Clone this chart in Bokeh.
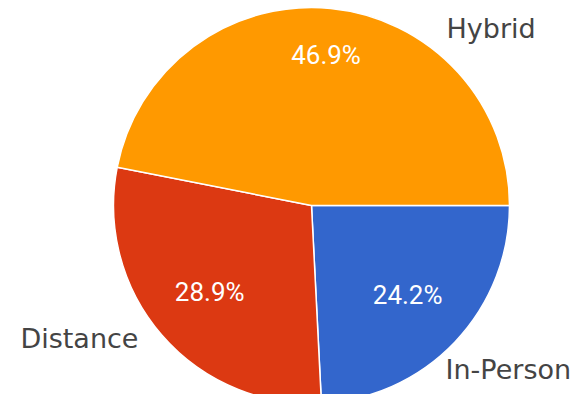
import math
from bokeh.plotting import figure
from bokeh.models import ColumnDataSource, Range1d
from bokeh.core.properties import value
from bokeh.embed import file_html
from bokeh.resources import INLINE

# ---- data ----
categories = ["In-Person", "Distance", "Hybrid"]
shares = [24.2, 28.9, 46.9]
colors = ["#3366CC", "#DC3912", "#FF9900"]

# ---- layout (pixels) ----
W, H = 572, 394
CX, CY, R = 311, 205, 198   # pie centre / radius inside the canvas

total = sum(shares)
starts, ends, mids = [], [], []
acc = 0.0
for s in shares:
    a0 = -2 * math.pi * acc / total
    acc += s
    a1 = -2 * math.pi * acc / total
    starts.append(a0)
    ends.append(a1)
    mids.append((a0 + a1) / 2)

src = ColumnDataSource(dict(cat=categories, share=shares, color=colors,
                            start=starts, end=ends))

p = figure(width=W, height=H, output_backend="svg", toolbar_location=None,
           x_range=Range1d(-CX / R, (W - CX) / R),
           y_range=Range1d(-(H - CY) / R, CY / R),
           min_border=0, outline_line_color=None,
           background_fill_color="white", border_fill_color="white")
p.axis.visible = False
p.grid.visible = False

p.wedge(x=0, y=0, radius=1.0, start_angle="start", end_angle="end",
        direction="clock", fill_color="color", line_color="white",
        line_width=1.5, source=src)

# percentage labels inside slices
lab_r = [0.67, 0.68, 0.755]
px = [r * math.cos(m) for r, m in zip(lab_r, mids)]
py = [r * math.sin(m) + 0.01 for r, m in zip(lab_r, mids)]
pct = [f"{s:.1f}%" for s in shares]
p.text(x=px, y=py, text=pct, text_color="white", text_font=value("Roboto"),
       text_font_size="26px", text_align="center", text_baseline="middle")

# category labels outside
name_pos = {"In-Person": (0.677, -0.827, "left"),
            "Distance": (-0.874, -0.670, "right"),
            "Hybrid": (0.682, 0.895, "left")}
for c in categories:
    x, y, al = name_pos[c]
    p.text(x=[x], y=[y], text=[c], text_color="#444444",
           text_font=value("DejaVu Sans"), text_font_size="27px",
           text_align=al, text_baseline="alphabetic")

open("out.html", "w").write(file_html(p, INLINE))
